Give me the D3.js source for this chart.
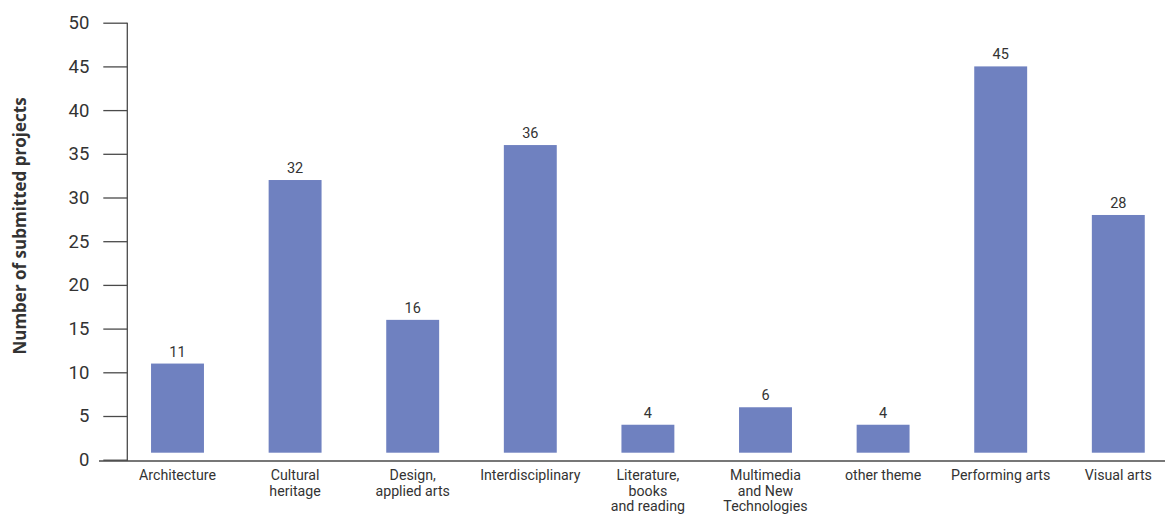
<!DOCTYPE html>
<html>
<head>
<meta charset="utf-8">
<script src="https://cdn.jsdelivr.net/npm/d3@7"></script>
<style>
  html, body { margin: 0; padding: 0; background: #fff; }
  svg { display: block; font-family: Roboto, "Open Sans", sans-serif; }
</style>
</head>
<body>
<svg id="chart" width="1165" height="516"></svg>
<script>
// Submitted projects per theme
const categories = [
  "Architecture",
  "Cultural heritage",
  "Design, applied arts",
  "Interdisciplinary",
  "Literature, books and reading",
  "Multimedia and New Technologies",
  "other theme",
  "Performing arts",
  "Visual arts"
];
// Category labels split over lines as shown under the axis
const categoryLines = [
  ["Architecture"],
  ["Cultural", "heritage"],
  ["Design,", "applied arts"],
  ["Interdisciplinary"],
  ["Literature,", "books", "and reading"],
  ["Multimedia", "and New", "Technologies"],
  ["other theme"],
  ["Performing arts"],
  ["Visual arts"]
];
const counts = [11, 32, 16, 36, 4, 6, 4, 45, 28];
const yTicks = [0, 5, 10, 15, 20, 25, 30, 35, 40, 45, 50];
const yTitle = "Number of submitted projects";

const svg = d3.select("#chart");
const textColor = "#333333";
const axisColor = "#4a4a4a";
const barColor = "#6f81c0";

const y = d3.scaleLinear().domain([0, 50]).range([459.7, 22.7]);
const x = d3.scaleBand()
  .domain(categories)
  .range([118.7, 1177.1])
  .paddingInner(0.55)
  .paddingOuter(0.275);

// Y axis
const yAxis = d3.axisLeft(y).tickValues(yTicks).tickSize(24).tickPadding(14).tickSizeOuter(0);
const gy = svg.append("g").attr("transform", "translate(127.3,0)").call(yAxis);
gy.select(".domain").attr("stroke", axisColor).attr("stroke-width", 1.3)
  .attr("d", `M0,${y(50)}V461`);
gy.selectAll(".tick line").attr("stroke", axisColor).attr("stroke-width", 1.3);
gy.selectAll(".tick text")
  .attr("fill", textColor)
  .style("font-size", "18.5px")
  .style("font-family", "Roboto, 'Open Sans', sans-serif");

// Baseline (x axis)
svg.append("line")
  .attr("x1", 99).attr("x2", 1165)
  .attr("y1", 461).attr("y2", 461)
  .attr("stroke", axisColor).attr("stroke-width", 1.5);

// Bars, lifted slightly off the baseline
const barGap = 7;
svg.append("g").selectAll("rect")
  .data(categories)
  .join("rect")
  .attr("x", (d) => x(d))
  .attr("width", x.bandwidth())
  .attr("y", (d, i) => y(counts[i]))
  .attr("height", (d, i) => y(0) - barGap - y(counts[i]))
  .attr("fill", barColor);

// Value labels
svg.append("g").selectAll("text")
  .data(categories)
  .join("text")
  .attr("x", (d) => x(d) + x.bandwidth() / 2)
  .attr("y", (d, i) => y(counts[i]) - 7)
  .attr("text-anchor", "middle")
  .attr("fill", textColor)
  .style("font-size", "14.5px")
  .text((d, i) => counts[i]);

// Category labels
const catG = svg.append("g").selectAll("text")
  .data(categories)
  .join("text")
  .attr("x", (d) => x(d) + x.bandwidth() / 2)
  .attr("y", 480)
  .attr("text-anchor", "middle")
  .attr("fill", textColor)
  .style("font-size", "14.2px");
catG.selectAll("tspan")
  .data((d, i) => categoryLines[i])
  .join("tspan")
  .attr("x", function () { return d3.select(this.parentNode).attr("x"); })
  .attr("dy", (d, j) => (j === 0 ? 0 : 15.7))
  .text((d) => d);

// Y axis title
svg.append("text")
  .attr("transform", "translate(26,226) rotate(-90)")
  .attr("text-anchor", "middle")
  .attr("fill", textColor)
  .style("font-family", "'Open Sans', Roboto, sans-serif")
  .style("font-size", "17px")
  .style("font-weight", "bold")
  .text(yTitle);
</script>
</body>
</html>
